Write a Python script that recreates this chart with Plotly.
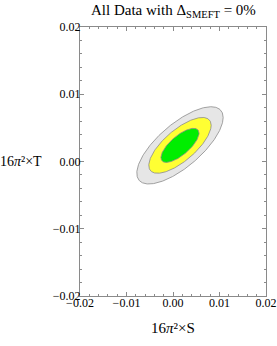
import numpy as np
import plotly.graph_objects as go

# Fit parameters
center_S = 0.0015
center_T = 0.0024
sigma_S = 0.0027
sigma_T = 0.00167
rho = 0.72
chi2_levels = [11.83, 6.18, 2.30]          # 3, 2, 1 sigma (2 d.o.f.)
fill_colors = ["#e6e6e6", "#ffff33", "#00ee00"]
tick_vals = [-0.02, -0.01, 0.0, 0.01, 0.02]
tick_text = ["\u22120.02", "\u22120.01", "0.00", "0.01", "0.02"]

font_family = "Liberation Serif"

t = np.linspace(0, 2 * np.pi, 361)
fig = go.Figure()
for level, col in zip(chi2_levels, fill_colors):
    r = np.sqrt(level)
    xs = center_S + r * sigma_S * np.cos(t)
    ys = center_T + r * sigma_T * (rho * np.cos(t) + np.sqrt(1 - rho ** 2) * np.sin(t))
    fig.add_trace(go.Scatter(x=xs, y=ys, mode="lines", fill="toself",
                             fillcolor=col, line=dict(color="#8c8c8c", width=0.8),
                             hoverinfo="skip", showlegend=False))

axis_common = dict(
    range=[-0.02, 0.02], tickvals=tick_vals, ticktext=tick_text, automargin=False,
    showgrid=False, zeroline=False, showline=True, linecolor="#8a8a8a", linewidth=1,
    mirror="ticks", ticks="inside", ticklen=4, tickcolor="#8a8a8a", tickwidth=1,
    minor=dict(dtick=0.002, ticks="inside", ticklen=2, tickcolor="#8a8a8a", tickwidth=1, showgrid=False),
    tickfont=dict(family=font_family, size=12, color="black"),
)

fig.update_layout(
    width=277, height=346,
    margin=dict(l=80, r=11, t=27, b=50),
    plot_bgcolor="white", paper_bgcolor="white",
    xaxis=dict(axis_common, ticklabelstandoff=-4),
    yaxis=dict(axis_common, ticklabelstandoff=-4),
    annotations=[
        dict(text="All Data with \u0394<sub>SMEFT</sub> = 0%", xref="paper", yref="paper",
             x=0.5, y=1, yanchor="bottom", yshift=5, showarrow=False,
             font=dict(family=font_family, size=15, color="black")),
        dict(text="16<i>\u03c0</i>\u00b2\u00d7S", xref="paper", yref="paper",
             x=0.5, y=0, yanchor="middle", yshift=-32, showarrow=False,
             font=dict(family=font_family, size=15, color="black")),
        dict(text="16<i>\u03c0</i>\u00b2\u00d7T", xref="paper", yref="y",
             x=0, y=0.0, xanchor="right", xshift=-36, showarrow=False,
             font=dict(family=font_family, size=14, color="black")),
    ],
)

fig.write_html("out.html", config={"displayModeBar": False},
               post_script="document.body.style.margin='0';")
